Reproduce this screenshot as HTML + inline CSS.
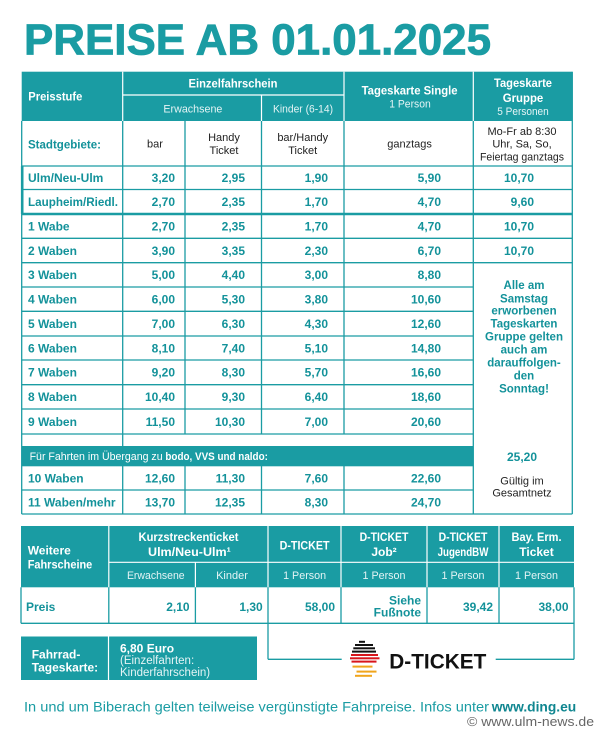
<!DOCTYPE html>
<html><head><meta charset="utf-8"><style>
html,body{margin:0;padding:0;background:#fff;}
svg{display:block;}
text{font-family:"Liberation Sans",sans-serif;}
.b{font-weight:bold;}
.tv{fill:#13929a;font-weight:bold;font-size:12px;}
.w{fill:#fff;}
.lw{fill:#e4f4f5;font-size:11px;}
.dk{fill:#222;font-size:11px;}
</style></head><body>
<svg width="600" height="735" viewBox="0 0 600 735" xmlns="http://www.w3.org/2000/svg">
<rect width="600" height="735" fill="#fff"/>
<!-- Title -->
<text x="24" y="54.3" font-size="44" class="b" fill="#1a9ca3" stroke="#1a9ca3" stroke-width="0.8" textLength="467" lengthAdjust="spacingAndGlyphs">PREISE AB 01.01.2025</text>

<!-- ===== TOP TABLE ===== -->
<rect x="21.7" y="71.7" width="550.6" height="49.3" fill="#1a9ca3"/>
<g stroke="#fff" stroke-width="1.2">
<line x1="122.7" y1="71.7" x2="122.7" y2="121"/>
<line x1="344" y1="71.7" x2="344" y2="121"/>
<line x1="473.3" y1="71.7" x2="473.3" y2="121"/>
<line x1="122.7" y1="95" x2="344" y2="95"/>
<line x1="261.5" y1="95" x2="261.5" y2="121"/>
</g>
<!-- band -->
<rect x="21.7" y="446" width="451.6" height="20.3" fill="#1a9ca3"/>
<g stroke="#1a9ca3" stroke-width="1.3" fill="none">
<line x1="21.7" y1="121" x2="21.7" y2="514"/>
<line x1="572.3" y1="71.7" x2="572.3" y2="514"/>
<line x1="21.7" y1="514" x2="572.3" y2="514"/>
<line x1="21.7" y1="166" x2="572.3" y2="166"/>
<line x1="21.7" y1="189.5" x2="572.3" y2="189.5"/>
<line x1="21.7" y1="238.3" x2="572.3" y2="238.3"/>
<line x1="21.7" y1="262.7" x2="572.3" y2="262.7"/>
<line x1="21.7" y1="287" x2="473.3" y2="287"/>
<line x1="21.7" y1="311.3" x2="473.3" y2="311.3"/>
<line x1="21.7" y1="336" x2="473.3" y2="336"/>
<line x1="21.7" y1="360" x2="473.3" y2="360"/>
<line x1="21.7" y1="384.7" x2="473.3" y2="384.7"/>
<line x1="21.7" y1="409" x2="473.3" y2="409"/>
<line x1="21.7" y1="434" x2="473.3" y2="434"/>
<line x1="21.7" y1="490" x2="473.3" y2="490"/>
<line x1="122.7" y1="121" x2="122.7" y2="446"/>
<line x1="122.7" y1="466" x2="122.7" y2="514"/>
<line x1="185" y1="121" x2="185" y2="434"/>
<line x1="185" y1="466" x2="185" y2="514"/>
<line x1="261.5" y1="121" x2="261.5" y2="434"/>
<line x1="261.5" y1="466" x2="261.5" y2="514"/>
<line x1="344" y1="121" x2="344" y2="434"/>
<line x1="344" y1="466" x2="344" y2="514"/>
<line x1="473.3" y1="121" x2="473.3" y2="514"/>
</g>
<g stroke="#1a9ca3" stroke-width="2.6">
<line x1="21.7" y1="214" x2="572.3" y2="214"/>
<line x1="22.2" y1="166" x2="22.2" y2="214"/>
</g>

<!-- header text -->
<text x="28.3" y="100.6" font-size="12" class="b w" textLength="54" lengthAdjust="spacingAndGlyphs">Preisstufe</text>
<text x="233" y="87.6" font-size="12" class="b w" text-anchor="middle" textLength="89" lengthAdjust="spacingAndGlyphs">Einzelfahrschein</text>
<text x="192.9" y="112.7" class="lw" text-anchor="middle" textLength="59" lengthAdjust="spacingAndGlyphs">Erwachsene</text>
<text x="303" y="112.7" class="lw" text-anchor="middle" textLength="60" lengthAdjust="spacingAndGlyphs">Kinder (6-14)</text>
<text x="409.6" y="94.3" font-size="12" class="b w" text-anchor="middle" textLength="96" lengthAdjust="spacingAndGlyphs">Tageskarte Single</text>
<text x="410" y="107.5" class="lw" text-anchor="middle" textLength="41.5" lengthAdjust="spacingAndGlyphs">1 Person</text>
<text x="523" y="87" font-size="12" class="b w" text-anchor="middle" textLength="58" lengthAdjust="spacingAndGlyphs">Tageskarte</text>
<text x="523" y="102" font-size="12" class="b w" text-anchor="middle" textLength="40.5" lengthAdjust="spacingAndGlyphs">Gruppe</text>
<text x="523" y="115" class="lw" text-anchor="middle" textLength="51.5" lengthAdjust="spacingAndGlyphs">5 Personen</text>

<!-- Stadtgebiete row -->
<text x="28" y="148.6" class="tv" textLength="73" lengthAdjust="spacingAndGlyphs">Stadtgebiete:</text>
<text x="155" y="147.5" class="dk" text-anchor="middle">bar</text>
<text x="224" y="140.8" class="dk" text-anchor="middle">Handy</text>
<text x="224" y="154.2" class="dk" text-anchor="middle">Ticket</text>
<text x="302.7" y="140.8" class="dk" text-anchor="middle">bar/Handy</text>
<text x="302.7" y="154.2" class="dk" text-anchor="middle">Ticket</text>
<text x="409.6" y="147.5" class="dk" text-anchor="middle">ganztags</text>
<text x="522" y="135" class="dk" text-anchor="middle">Mo-Fr ab 8:30</text>
<text x="522" y="147.3" class="dk" text-anchor="middle">Uhr, Sa, So,</text>
<text x="522" y="160.7" class="dk" text-anchor="middle" textLength="84" lengthAdjust="spacingAndGlyphs">Feiertag ganztags</text>

<!-- data rows -->
<g class="tv">
<text x="28" y="182.1">Ulm/Neu-Ulm</text>
<text x="28" y="206.1" textLength="90" lengthAdjust="spacingAndGlyphs">Laupheim/Riedl.</text>
<text x="28" y="230.5">1 Wabe</text>
<text x="28" y="254.8">2 Waben</text>
<text x="28" y="279.2">3 Waben</text>
<text x="28" y="303.5">4 Waben</text>
<text x="28" y="328">5 Waben</text>
<text x="28" y="352.3">6 Waben</text>
<text x="28" y="376.7">7 Waben</text>
<text x="28" y="401.2">8 Waben</text>
<text x="28" y="425.8">9 Waben</text>
<text x="28" y="482.3">10 Waben</text>
<text x="28" y="506.3">11 Waben/mehr</text>
</g>
<g class="tv" text-anchor="end">
<text x="175" y="182.1">3,20</text>
<text x="175" y="206.1">2,70</text>
<text x="175" y="230.5">2,70</text>
<text x="175" y="254.8">3,90</text>
<text x="175" y="279.2">5,00</text>
<text x="175" y="303.5">6,00</text>
<text x="175" y="328">7,00</text>
<text x="175" y="352.3">8,10</text>
<text x="175" y="376.7">9,20</text>
<text x="175" y="401.2">10,40</text>
<text x="175" y="425.8">11,50</text>
<text x="175" y="482.3">12,60</text>
<text x="175" y="506.3">13,70</text>
<text x="245" y="182.1">2,95</text>
<text x="245" y="206.1">2,35</text>
<text x="245" y="230.5">2,35</text>
<text x="245" y="254.8">3,35</text>
<text x="245" y="279.2">4,40</text>
<text x="245" y="303.5">5,30</text>
<text x="245" y="328">6,30</text>
<text x="245" y="352.3">7,40</text>
<text x="245" y="376.7">8,30</text>
<text x="245" y="401.2">9,30</text>
<text x="245" y="425.8">10,30</text>
<text x="245" y="482.3">11,30</text>
<text x="245" y="506.3">12,35</text>
<text x="328" y="182.1">1,90</text>
<text x="328" y="206.1">1,70</text>
<text x="328" y="230.5">1,70</text>
<text x="328" y="254.8">2,30</text>
<text x="328" y="279.2">3,00</text>
<text x="328" y="303.5">3,80</text>
<text x="328" y="328">4,30</text>
<text x="328" y="352.3">5,10</text>
<text x="328" y="376.7">5,70</text>
<text x="328" y="401.2">6,40</text>
<text x="328" y="425.8">7,00</text>
<text x="328" y="482.3">7,60</text>
<text x="328" y="506.3">8,30</text>
<text x="441" y="182.1">5,90</text>
<text x="441" y="206.1">4,70</text>
<text x="441" y="230.5">4,70</text>
<text x="441" y="254.8">6,70</text>
<text x="441" y="279.2">8,80</text>
<text x="441" y="303.5">10,60</text>
<text x="441" y="328">12,60</text>
<text x="441" y="352.3">14,80</text>
<text x="441" y="376.7">16,60</text>
<text x="441" y="401.2">18,60</text>
<text x="441" y="425.8">20,60</text>
<text x="441" y="482.3">22,60</text>
<text x="441" y="506.3">24,70</text>
<text x="534" y="182.1">10,70</text>
<text x="534" y="206.1">9,60</text>
<text x="534" y="230.5">10,70</text>
<text x="534" y="254.8">10,70</text>
<text x="537" y="461">25,20</text>
</g>
<g class="tv" text-anchor="middle" style="font-size:11.5px">
<text x="524" y="289">Alle am</text>
<text x="524" y="302.3">Samstag</text>
<text x="524" y="314.7">erworbenen</text>
<text x="524" y="327.3">Tageskarten</text>
<text x="524" y="340.7">Gruppe gelten</text>
<text x="524" y="353.3">auch am</text>
<text x="524" y="366.3">darauffolgen-</text>
<text x="524" y="379.7">den</text>
<text x="524" y="392.3">Sonntag!</text>
</g>
<text x="522" y="484.7" class="dk" text-anchor="middle">Gültig im</text>
<text x="522" y="496.7" class="dk" text-anchor="middle">Gesamtnetz</text>
<text x="29.6" y="460" font-size="11" class="w" textLength="133" lengthAdjust="spacingAndGlyphs">Für Fahrten im Übergang zu</text>
<text x="165.4" y="460" font-size="11" class="b w" textLength="102.5" lengthAdjust="spacingAndGlyphs">bodo, VVS und naldo:</text>

<!-- ===== BOTTOM TABLE ===== -->
<rect x="21" y="526" width="553" height="61.3" fill="#1a9ca3"/>
<g stroke="#fff" stroke-width="1.2">
<line x1="108.8" y1="526" x2="108.8" y2="587.3"/>
<line x1="268" y1="526" x2="268" y2="587.3"/>
<line x1="341" y1="526" x2="341" y2="587.3"/>
<line x1="427" y1="526" x2="427" y2="587.3"/>
<line x1="499" y1="526" x2="499" y2="587.3"/>
<line x1="195.4" y1="562.3" x2="195.4" y2="587.3"/>
<line x1="108.8" y1="562.3" x2="574" y2="562.3"/>
</g>
<g stroke="#1a9ca3" stroke-width="1.3" fill="none">
<line x1="21" y1="587.3" x2="21" y2="623.3"/>
<line x1="574" y1="587.3" x2="574" y2="659.3"/>
<line x1="21" y1="623.3" x2="574" y2="623.3"/>
<line x1="108.8" y1="587.3" x2="108.8" y2="623.3"/>
<line x1="195.4" y1="587.3" x2="195.4" y2="623.3"/>
<line x1="268" y1="587.3" x2="268" y2="659.3"/>
<line x1="341" y1="587.3" x2="341" y2="623.3"/>
<line x1="427" y1="587.3" x2="427" y2="623.3"/>
<line x1="499" y1="587.3" x2="499" y2="623.3"/>
<line x1="268" y1="659.3" x2="341.7" y2="659.3"/>
<line x1="495.7" y1="659.3" x2="574" y2="659.3"/>
</g>
<text x="27.7" y="554.3" font-size="12" class="b w">Weitere</text>
<text x="27.7" y="568.6" font-size="12" class="b w" textLength="64.6" lengthAdjust="spacingAndGlyphs">Fahrscheine</text>
<g font-size="12" class="b w" text-anchor="middle">
<text x="188.5" y="541" textLength="100" lengthAdjust="spacingAndGlyphs">Kurzstreckenticket</text>
<text x="189.4" y="556" textLength="82.7" lengthAdjust="spacingAndGlyphs">Ulm/Neu-Ulm¹</text>
<text x="304.6" y="549.3" textLength="50" lengthAdjust="spacingAndGlyphs">D-TICKET</text>
<text x="384" y="541" textLength="48.8" lengthAdjust="spacingAndGlyphs">D-TICKET</text>
<text x="384" y="556">Job²</text>
<text x="463" y="541" textLength="48.8" lengthAdjust="spacingAndGlyphs">D-TICKET</text>
<text x="463" y="556" textLength="50.8" lengthAdjust="spacingAndGlyphs">JugendBW</text>
<text x="536.5" y="541" textLength="50" lengthAdjust="spacingAndGlyphs">Bay. Erm.</text>
<text x="536.5" y="556">Ticket</text>
</g>
<g class="lw" text-anchor="middle">
<text x="155.8" y="579" textLength="57.7" lengthAdjust="spacingAndGlyphs">Erwachsene</text>
<text x="232" y="579">Kinder</text>
<text x="304.6" y="579" textLength="43" lengthAdjust="spacingAndGlyphs">1 Person</text>
<text x="384" y="579" textLength="43" lengthAdjust="spacingAndGlyphs">1 Person</text>
<text x="463" y="579" textLength="43" lengthAdjust="spacingAndGlyphs">1 Person</text>
<text x="536.5" y="579" textLength="43" lengthAdjust="spacingAndGlyphs">1 Person</text>
</g>
<text x="26" y="611" class="tv">Preis</text>
<g class="tv" text-anchor="end">
<text x="189.6" y="611">2,10</text>
<text x="262.7" y="611">1,30</text>
<text x="335" y="611">58,00</text>
<text x="421" y="604.3">Siehe</text>
<text x="421" y="616.6">Fußnote</text>
<text x="493" y="611">39,42</text>
<text x="568.5" y="611">38,00</text>
</g>

<!-- D-Ticket logo -->
<g>
<rect x="359" y="640.8" width="6" height="2" fill="#111"/>
<rect x="355" y="644" width="18" height="2" fill="#111"/>
<rect x="353.3" y="647.3" width="21.7" height="2" fill="#111"/>
<rect x="352" y="650.6" width="24" height="2" fill="#111"/>
<rect x="351" y="654" width="27" height="2" fill="#d8151c"/>
<rect x="350" y="657.3" width="29.5" height="2" fill="#d8151c"/>
<rect x="351.5" y="660.6" width="25" height="2" fill="#d8151c"/>
<rect x="352.5" y="665.6" width="20" height="2" fill="#f0a51c"/>
<rect x="356.5" y="670.6" width="20" height="2" fill="#f0a51c"/>
<rect x="355" y="674.8" width="17" height="2" fill="#f0a51c"/>
</g>
<text x="389.3" y="668.3" font-size="21" class="b" fill="#111" textLength="97" lengthAdjust="spacingAndGlyphs">D-TICKET</text>

<!-- Fahrrad box -->
<rect x="21" y="636.5" width="236" height="43.5" fill="#1a9ca3"/>
<line x1="108.5" y1="636.5" x2="108.5" y2="680" stroke="#fff" stroke-width="1.2"/>
<text x="31.7" y="658.5" font-size="12" class="b w">Fahrrad-</text>
<text x="31.7" y="671.5" font-size="12" class="b w">Tageskarte:</text>
<text x="120" y="652.5" font-size="12" class="b w">6,80 Euro</text>
<text x="120" y="664.2" font-size="11.5" fill="#e4f4f5">(Einzelfahrten:</text>
<text x="120" y="676" font-size="11.5" fill="#e4f4f5">Kinderfahrschein)</text>

<!-- footer -->
<text x="24" y="711.5" font-size="14" fill="#1a9ca3" textLength="465" lengthAdjust="spacingAndGlyphs">In und um Biberach gelten teilweise vergünstigte Fahrpreise. Infos unter</text>
<text x="491.7" y="711.5" font-size="14" class="b" fill="#0f8690" textLength="84.5" lengthAdjust="spacingAndGlyphs">www.ding.eu</text>
<text x="467" y="726" font-size="13" fill="#666" textLength="127" lengthAdjust="spacingAndGlyphs">© www.ulm-news.de</text>
</svg>
</body></html>
